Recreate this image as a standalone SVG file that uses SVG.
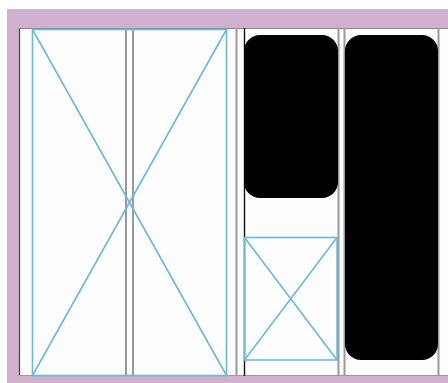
<svg xmlns="http://www.w3.org/2000/svg" width="448" height="383" viewBox="0 0 448 383">
<style>
.g{stroke:#9a9a9a;stroke-width:2;fill:none}
.b{stroke:#6bb8dc;stroke-width:1.6;fill:none}
.k{fill:#000}
</style>
<rect x="0" y="0" width="448" height="383" fill="#ffffff"/>
<rect x="7" y="9" width="441" height="374" fill="#cfb0cd"/>
<rect x="19" y="28" width="429" height="348" fill="#fdfdfd"/>
<g id="grid">
<line x1="19.5" y1="28" x2="19.5" y2="376" stroke="#444" stroke-width="1.2"/>
<line x1="19" y1="28.5" x2="448" y2="28.5" stroke="#888" stroke-width="1.2"/>
<line x1="19" y1="375.5" x2="448" y2="375.5" stroke="#999" stroke-width="1.2"/>
<line class="g" x1="126" y1="28" x2="126" y2="376"/>
<line class="g" x1="133" y1="28" x2="133" y2="376"/>
<line class="g" x1="236.5" y1="28" x2="236.5" y2="376"/>
<line x1="244.5" y1="28" x2="244.5" y2="376" stroke="#111" stroke-width="1.4"/>
<line class="g" x1="338.5" y1="28" x2="338.5" y2="376"/>
<line class="g" x1="344.5" y1="28" x2="344.5" y2="376"/>
<line class="g" x1="438.5" y1="28" x2="438.5" y2="376"/>
</g>
<g id="placeholder-large">
<rect class="b" x="32.5" y="29.5" width="194" height="346"/>
<line class="b" x1="32.5" y1="29.5" x2="226.5" y2="375.5"/>
<line class="b" x1="226.5" y1="29.5" x2="32.5" y2="375.5"/>
</g>
<g id="block-top">
<rect class="k" x="244" y="35" width="94" height="163" rx="16"/>
</g>
<g id="placeholder-small">
<rect class="b" x="244.5" y="237.5" width="92.5" height="122.5"/>
<line class="b" x1="244.5" y1="237.5" x2="337" y2="360"/>
<line class="b" x1="337" y1="237.5" x2="244.5" y2="360"/>
</g>
<g id="block-tall">
<rect class="k" x="345" y="35" width="93" height="325" rx="16"/>
</g>
</svg>
